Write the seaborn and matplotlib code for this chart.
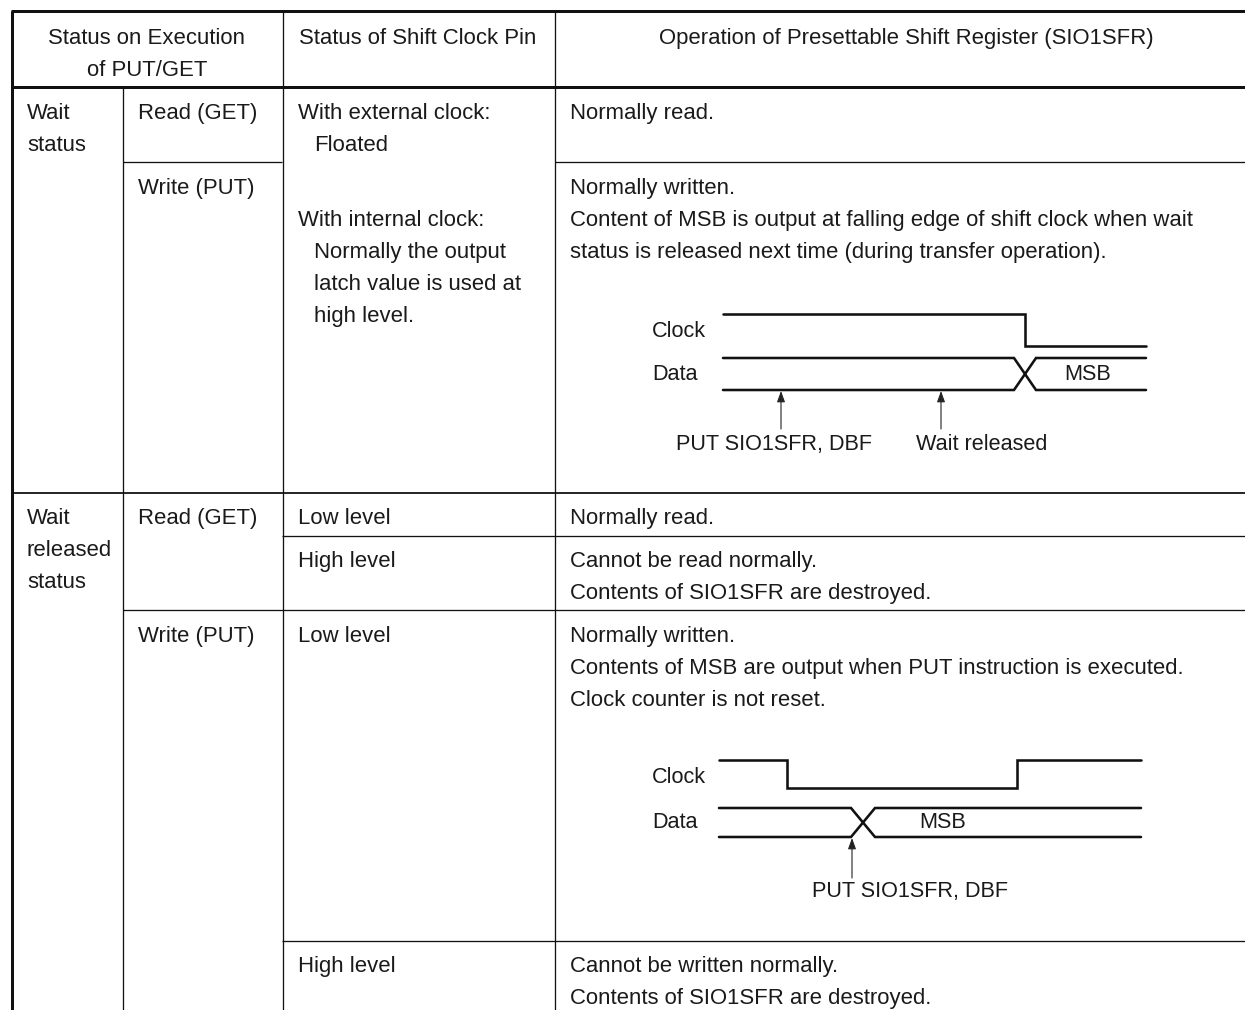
import matplotlib
matplotlib.use("Agg")
import matplotlib.pyplot as plt
import seaborn as sns
import pandas as pd

W, H = 1245, 1010
INK = "#111111"

# table rules: (y, x0, x1, width)
h_rules = [
    (11, 11, 1245, 3.0), (87, 11, 1245, 3.0),
    (162, 123, 282, 1.3), (162, 555, 1245, 1.3),
    (493, 11, 1245, 1.8), (536, 282, 1245, 1.3),
    (610, 123, 1245, 1.3), (941, 282, 1245, 1.3),
]
v_rules = [
    (12, 11, 1010, 3.0), (123, 87, 1010, 1.3),
    (282.5, 11, 1010, 1.3), (555, 11, 1010, 1.3),
]

# table text: (x, baseline y, string, alignment)
cells = [
    (147, 43.6, "Status on Execution", "center"), (147, 75.6, "of PUT/GET", "center"),
    (418, 43.6, "Status of Shift Clock Pin", "center"),
    (906, 43.6, "Operation of Presettable Shift Register (SIO1SFR)", "center"),
    (27, 118.6, "Wait", "left"), (27, 150.6, "status", "left"),
    (138, 118.6, "Read (GET)", "left"), (138, 193.6, "Write (PUT)", "left"),
    (298, 118.6, "With external clock:", "left"), (314, 150.6, "Floated", "left"),
    (298, 225.6, "With internal clock:", "left"), (314, 257.6, "Normally the output", "left"),
    (314, 289.6, "latch value is used at", "left"), (314, 321.6, "high level.", "left"),
    (570, 118.6, "Normally read.", "left"), (570, 193.6, "Normally written.", "left"),
    (570, 225.6, "Content of MSB is output at falling edge of shift clock when wait", "left"),
    (570, 257.6, "status is released next time (during transfer operation).", "left"),
    (27, 523.6, "Wait", "left"), (27, 555.6, "released", "left"), (27, 587.6, "status", "left"),
    (138, 523.6, "Read (GET)", "left"), (138, 641.6, "Write (PUT)", "left"),
    (298, 523.6, "Low level", "left"), (298, 566.6, "High level", "left"),
    (298, 641.6, "Low level", "left"), (298, 971.6, "High level", "left"),
    (570, 523.6, "Normally read.", "left"), (570, 566.6, "Cannot be read normally.", "left"),
    (570, 598.6, "Contents of SIO1SFR are destroyed.", "left"),
    (570, 641.6, "Normally written.", "left"),
    (570, 673.6, "Contents of MSB are output when PUT instruction is executed.", "left"),
    (570, 705.6, "Clock counter is not reset.", "left"),
    (570, 971.6, "Cannot be written normally.", "left"),
    (570, 1003.6, "Contents of SIO1SFR are destroyed.", "left"),
]
diagram_labels = [
    (652, 337, "Clock", "left"), (652, 380, "Data", "left"), (1088, 380, "MSB", "center"),
    (676, 450, "PUT SIO1SFR, DBF", "left"), (916, 450, "Wait released", "left"),
    (652, 783, "Clock", "left"), (652, 828, "Data", "left"), (943, 828, "MSB", "center"),
    (812, 897, "PUT SIO1SFR, DBF", "left"),
]

# waveform traces in the timing diagrams
clock_a_x = [723, 1025, 1025, 1146]
clock_a_y = [314, 314, 346, 346]
data_a_up_x = [723, 1014, 1036, 1146]
data_a_up_y = [358, 358, 390, 390]
data_a_lo_x = [723, 1014, 1036, 1146]
data_a_lo_y = [390, 390, 358, 358]
clock_b_x = [719, 787, 787, 1017, 1017, 1141]
clock_b_y = [760, 760, 788, 788, 760, 760]
data_b_up_x = [719, 851, 875, 1141]
data_b_up_y = [808, 808, 837, 837]
data_b_lo_x = [719, 851, 875, 1141]
data_b_lo_y = [837, 837, 808, 808]
traces = {
    "clock_a": (clock_a_x, clock_a_y), "data_a_up": (data_a_up_x, data_a_up_y),
    "data_a_lo": (data_a_lo_x, data_a_lo_y), "clock_b": (clock_b_x, clock_b_y),
    "data_b_up": (data_b_up_x, data_b_up_y), "data_b_lo": (data_b_lo_x, data_b_lo_y),
}

# arrows: (x, tail y, head y)
arrows = [(781, 429, 391), (941, 429, 391), (852, 878, 838)]

sns.set_theme(style="white")
plt.rcParams["font.family"] = ["Liberation Sans", "DejaVu Sans"]

fig = plt.figure(figsize=(W / 100, H / 100), dpi=100, facecolor="white")
ax = fig.add_axes([0, 0, 1, 1])

frame = pd.concat(
    [pd.DataFrame({"x": xs, "y": ys, "trace": name}) for name, (xs, ys) in traces.items()],
    ignore_index=True,
)
sns.lineplot(data=frame, x="x", y="y", units="trace", estimator=None, sort=False,
             color=INK, linewidth=1.85, legend=False, ax=ax, solid_joinstyle="miter")

for y, x0, x1, lw in h_rules:
    ax.plot([x0, x1], [y, y], color=INK, lw=lw * 0.72, solid_capstyle="butt")
for x, y0, y1, lw in v_rules:
    ax.plot([x, x], [y0, y1], color=INK, lw=lw * 0.72, solid_capstyle="butt")

for x, y, s, ha in cells:
    ax.text(x, y, s, ha=ha, va="baseline", fontsize=15.9, color="#1a1a1a")
for x, y, s, ha in diagram_labels:
    ax.text(x, y, s, ha=ha, va="baseline", fontsize=15.6, color="#1a1a1a")

for x, y0, y1 in arrows:
    ax.annotate("", xy=(x, y1), xytext=(x, y0),
                arrowprops=dict(arrowstyle="-|>,head_length=0.55,head_width=0.2",
                                color="#222222", lw=0.8, shrinkA=0, shrinkB=0))

ax.set_xlim(0, W)
ax.set_ylim(H, 0)
ax.axis("off")
fig.savefig("out.png", dpi=100, facecolor="white")
